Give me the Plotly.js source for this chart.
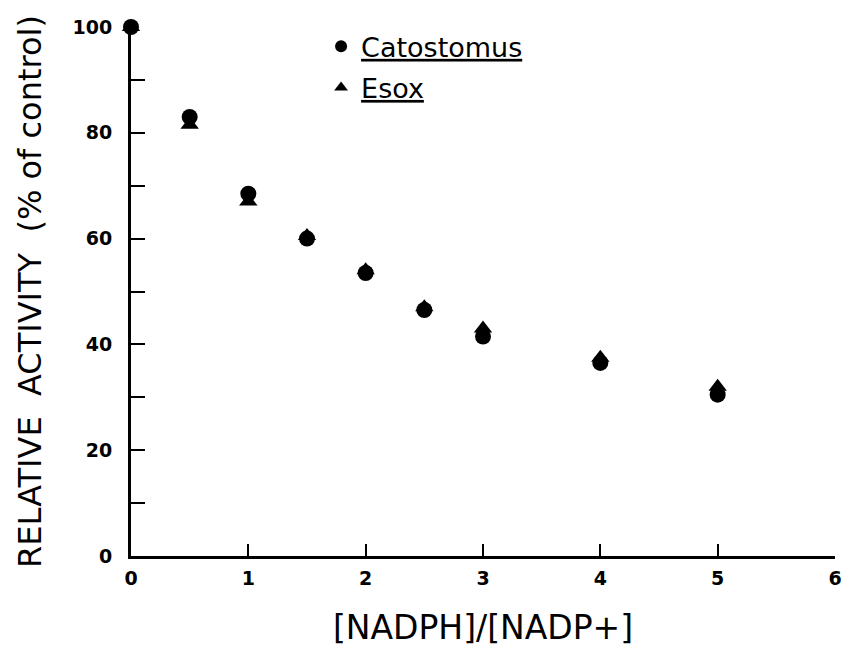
<!DOCTYPE html>
<html>
<head>
<meta charset="utf-8">
<script src="https://cdn.plot.ly/plotly-3.0.1.min.js"></script>
<style>html,body{margin:0;padding:0;background:#fff;}</style>
</head>
<body>
<div id="chart" style="width:851px;height:656px;"></div>
<script>
const ratio = [0, 0.5, 1, 1.5, 2, 2.5, 3, 4, 5];
const catostomus = [100, 83, 68.5, 60, 53.5, 46.5, 41.5, 36.5, 30.5];
const esox = [100, 81.5, 67, 60.5, 54, 47, 43, 37.5, 32];
const xTicks = [0, 1, 2, 3, 4, 5, 6];
const yTicks = [0, 20, 40, 60, 80, 100];

const font = "'DejaVu Sans', sans-serif";

const traces = [
  {
    x: ratio, y: catostomus, type: 'scatter', mode: 'markers',
    name: '<span style="text-decoration:underline">Catostomus</span>',
    legendgroup: 'a',
    marker: {symbol: 'circle', size: 16, color: '#000'},
    cliponaxis: false
  },
  {
    x: ratio, y: esox, type: 'scatter', mode: 'markers',
    name: '<span style="text-decoration:underline">Esox</span>',
    legendgroup: 'b',
    marker: {symbol: 'triangle-up', size: 16, color: '#000'},
    cliponaxis: false
  }
];

const layout = {
  width: 851, height: 656,
  margin: {l: 131, r: 16, t: 27, b: 100},
  paper_bgcolor: '#fff', plot_bgcolor: '#fff',
  font: {family: font, color: '#000'},
  showlegend: true,
  legend: {
    x: 0.27, y: 1.009, xanchor: 'left', yanchor: 'top',
    font: {size: 27, family: font, color: '#000'},
    bgcolor: 'rgba(0,0,0,0)', itemsizing: 'constant', tracegroupgap: 3
  },
  xaxis: {
    range: [0, 6], tickvals: xTicks, ticktext: xTicks.map(String),
    showgrid: false, zeroline: false, showline: true, linecolor: '#000', linewidth: 2.5,
    ticks: 'inside', ticklen: 12, tickwidth: 2, tickcolor: '#000',
    ticklabelstandoff: 4,
    tickfont: {size: 19, family: font, color: '#000', weight: 'bold'},
    title: {text: '[NADPH]/[NADP+]', font: {size: 33, family: font, color: '#000'}, standoff: 28}
  },
  yaxis: {
    range: [0, 100], tickvals: yTicks, ticktext: yTicks.map(String),
    showgrid: false, zeroline: false, showline: true, linecolor: '#000', linewidth: 3,
    ticks: 'inside', ticklen: 14, tickwidth: 2, tickcolor: '#000',
    ticklabelstandoff: 12,
    minor: {dtick: 10, ticks: 'inside', ticklen: 14, tickwidth: 2, tickcolor: '#000'},
    tickfont: {size: 19, family: font, color: '#000', weight: 'bold'},
    title: {text: 'RELATIVE  ACTIVITY  (% of control)', font: {size: 32, family: font, color: '#000'}, standoff: 22}
  }
};

Plotly.newPlot('chart', traces, layout, {displayModeBar: false, staticPlot: true});
</script>
</body>
</html>
